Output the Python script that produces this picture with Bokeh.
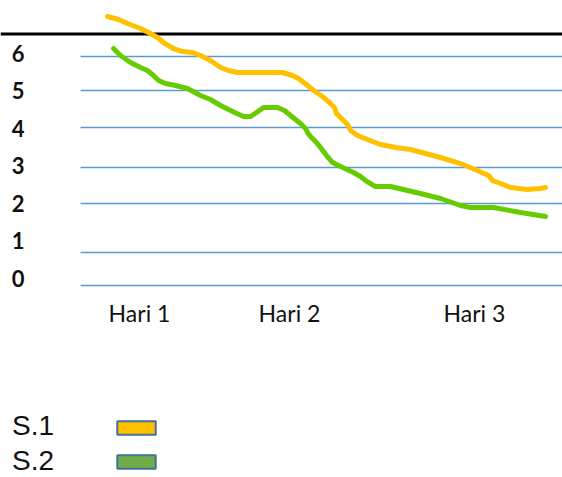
from bokeh.plotting import figure
from bokeh.models import Range1d, FixedTicker, Span, Legend, LegendItem
from bokeh.embed import file_html
from bokeh.resources import INLINE

# ---- data ----
day_ticks = [1, 2, 3.233]
day_labels = ["Hari 1", "Hari 2", "Hari 3"]
y_ticks = [0, 1, 2, 3, 4, 5, 6]
series_names = ["S.1", "S.2"]

s1_x = [0.787, 0.86, 0.92, 1.007, 1.073, 1.12, 1.16, 1.193, 1.227, 1.287, 1.353, 1.407,
        1.473, 1.54, 1.593, 1.653, 1.807, 1.953, 2.02, 2.06, 2.113, 2.16, 2.22, 2.273,
        2.3, 2.313, 2.347, 2.387, 2.407, 2.453, 2.52, 2.607, 2.707, 2.807, 2.907, 3.007,
        3.14, 3.253, 3.327, 3.353, 3.407, 3.473, 3.587, 3.673, 3.707]
s1_y = [6.983, 6.903, 6.796, 6.662, 6.529, 6.422, 6.288, 6.208, 6.128, 6.048, 6.021, 5.941,
        5.808, 5.621, 5.541, 5.487, 5.487, 5.487, 5.407, 5.327, 5.167, 5.007, 4.846, 4.660,
        4.553, 4.393, 4.259, 4.099, 3.939, 3.805, 3.698, 3.565, 3.485, 3.431, 3.324, 3.218,
        3.057, 2.870, 2.737, 2.603, 2.523, 2.417, 2.363, 2.390, 2.417]

s2_x = [0.827, 0.873, 0.94, 1.007, 1.053, 1.093, 1.127, 1.173, 1.24, 1.32, 1.407, 1.473,
        1.54, 1.607, 1.693, 1.74, 1.78, 1.827, 1.92, 1.967, 2.007, 2.073, 2.107, 2.12,
        2.14, 2.18, 2.207, 2.247, 2.287, 2.34, 2.427, 2.473, 2.507, 2.573, 2.673, 2.787,
        2.873, 3.007, 3.14, 3.207, 3.36, 3.54, 3.707]
s2_y = [6.128, 5.941, 5.754, 5.621, 5.541, 5.407, 5.274, 5.194, 5.140, 5.060, 4.873, 4.766,
        4.606, 4.473, 4.312, 4.312, 4.419, 4.553, 4.553, 4.473, 4.339, 4.125, 3.992, 3.885,
        3.778, 3.618, 3.485, 3.271, 3.084, 2.977, 2.817, 2.710, 2.603, 2.443, 2.443, 2.336,
        2.256, 2.123, 1.936, 1.883, 1.883, 1.749, 1.642]

# ---- style constants ----
GRID_LEVELS = [5.92, 5.0, 4.03, 2.96, 1.98, 0.67, -0.2]
GRID_X_START = 0.607
TOP_RULE = 6.515
LINE_COLORS = ["#FFC000", "#66CC00"]
SWATCH_COLORS = ["#FFC000", "#70AD47"]
NAN = float("nan")

W, H = 562, 477
p = figure(width=W, height=H, output_backend="svg", toolbar_location=None,
           x_range=Range1d(0.0733, 3.82), y_range=Range1d(-5.327, 7.41),
           min_border=0, min_border_left=0, min_border_right=0,
           min_border_top=0, min_border_bottom=0)
p.outline_line_color = None
p.background_fill_color = "white"
p.border_fill_color = "white"

# axes
p.xaxis.fixed_location = -0.56
p.xaxis.ticker = FixedTicker(ticks=day_ticks)
p.xaxis.major_label_overrides = {t: l for t, l in zip(day_ticks, day_labels)}
p.xaxis.axis_line_color = None
p.xaxis.major_tick_line_color = None
p.xaxis.minor_tick_line_color = None
p.xaxis.major_tick_out = 0
p.xaxis.major_label_standoff = 0
p.xaxis.major_label_text_font = "Lato"
p.xaxis.major_label_text_font_size = "23px"
p.xaxis.major_label_text_color = "#111111"

p.yaxis.fixed_location = 0.233
p.yaxis.ticker = FixedTicker(ticks=y_ticks)
p.yaxis.axis_line_color = None
p.yaxis.major_tick_line_color = None
p.yaxis.minor_tick_line_color = None
p.yaxis.major_tick_out = 0
p.yaxis.major_label_standoff = 0
p.yaxis.major_label_text_font = "Lato"
p.yaxis.major_label_text_font_style = "bold"
p.yaxis.major_label_text_font_size = "22px"
p.yaxis.major_label_text_color = "#111111"

# grid
p.xgrid.visible = False
g = p.ygrid[0]
g.ticker = FixedTicker(ticks=GRID_LEVELS)
g.grid_line_color = "#5B9BD5"
g.grid_line_width = 1.5
if "cross_bounds" in g.properties():
    g.cross_bounds = (GRID_X_START, 3.82)

rule = Span(location=TOP_RULE, dimension="width", line_color="black",
            line_width=3, level="underlay")
p.add_layout(rule)

# series lines
p.line(s1_x, s1_y, line_color=LINE_COLORS[0], line_width=5,
       line_join="round", line_cap="round")
p.line(s2_x, s2_y, line_color=LINE_COLORS[1], line_width=5,
       line_join="round", line_cap="round")

# legend swatches (legend-only renderers)
sw = []
for c in SWATCH_COLORS:
    sw.append(p.quad(left=[NAN], right=[NAN], top=[NAN], bottom=[NAN], fill_color=c,
                     line_color="#41719C", line_width=2))
blank = p.quad(left=[NAN], right=[NAN], top=[NAN], bottom=[NAN],
               fill_alpha=0, line_alpha=0)

legend_common = dict(orientation="vertical", padding=0, margin=0,
                     background_fill_alpha=0, border_line_alpha=0)

# legend labels (text on the left)
legend_labels = Legend(items=[LegendItem(label=n, renderers=[blank]) for n in series_names],
                       location=(11, 0), glyph_width=1, glyph_height=1,
                       label_standoff=0, spacing=3,
                       label_text_font="Liberation Sans", label_text_font_size="28px",
                       label_text_color="#111111", **legend_common)
p.add_layout(legend_labels, "center")

# legend swatches (boxes on the right)
legend_boxes = Legend(items=[LegendItem(label="", renderers=[r]) for r in sw],
                      location=(112, 7), glyph_width=48, glyph_height=17,
                      label_standoff=0, spacing=17, label_height=17,
                      label_text_font_size="10px", **legend_common)
p.add_layout(legend_boxes, "center")

open("out.html", "w").write(file_html(p, INLINE))
